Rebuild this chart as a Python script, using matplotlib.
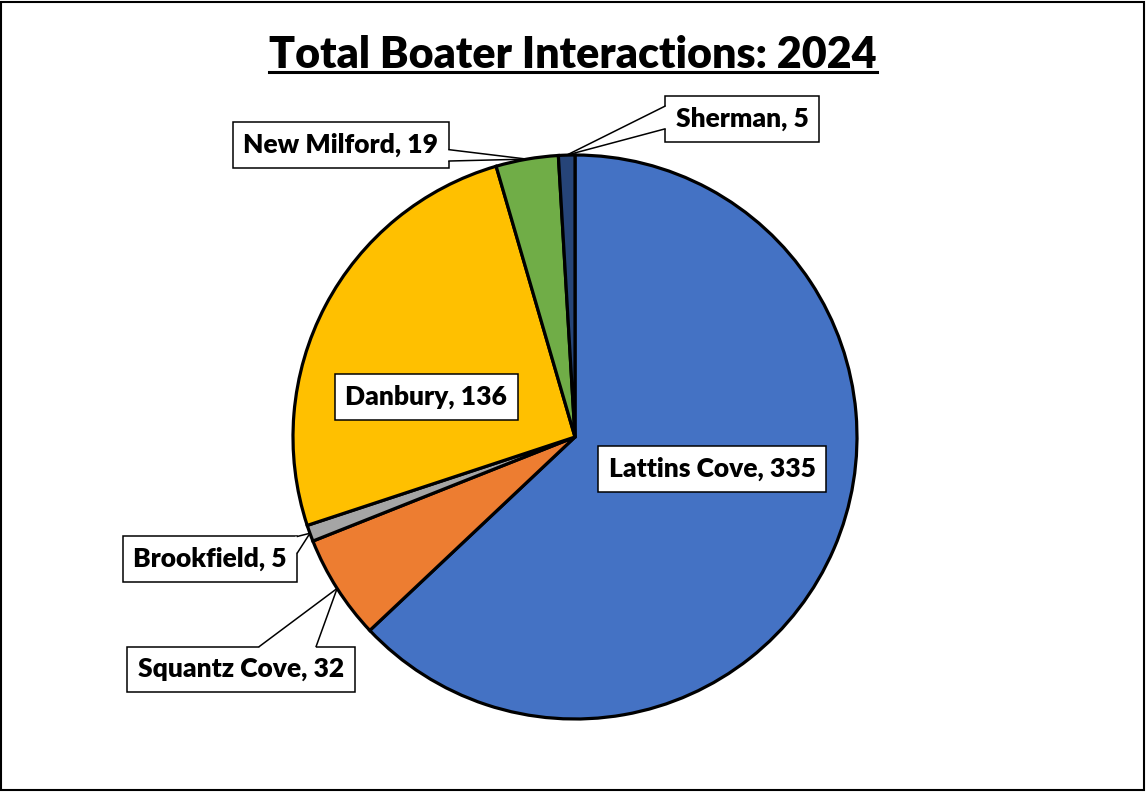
import matplotlib.pyplot as plt
from matplotlib.lines import Line2D
from matplotlib.patches import Polygon, Rectangle
import numpy as np

# Boater interactions by location, 2024
locations = ["Lattins Cove", "Squantz Cove", "Brookfield", "Danbury", "New Milford", "Sherman"]
interactions = [335, 32, 5, 136, 19, 5]
colors = ["#4472C4", "#ED7D31", "#A5A5A5", "#FFC000", "#70AD47", "#264478"]

# where each label box sits (data units of the pie axes, radius = 1)
label_pos = [(0.486, -0.113), (-1.184, -0.823), (-1.294, -0.433),
             (-0.528, 0.142), (-0.830, 1.035), (0.592, 1.128)]
# callout tail: which side of the box it leaves from and the span along that side
tails = [None, ("top", 0.58, 0.83), ("right", 0.0, 0.36),
         None, ("right", 0.60, 0.85), ("left", 0.22, 0.72)]

plt.rcParams["font.family"] = ["Lato", "DejaVu Sans"]

fig = plt.figure(figsize=(11.46, 7.92), dpi=100)
ax = fig.add_axes([293 / 1146, 73 / 792, 564 / 1146, 564 / 792])

wedges, _ = ax.pie(interactions, colors=colors, startangle=90, counterclock=False,
                   radius=1, wedgeprops=dict(edgecolor="black", linewidth=2.3))
ax.set_xlim(-1, 1)
ax.set_ylim(-1, 1)
ax.set_aspect("equal")
ax.axis("off")

box = dict(boxstyle="square,pad=0.4", facecolor="white", edgecolor="black", linewidth=1.1)
labels = []
for name, val, pos in zip(locations, interactions, label_pos):
    t = ax.text(pos[0], pos[1], f"{name}, {val}", ha="center", va="center",
                fontsize=19, fontweight="heavy", bbox=box, zorder=3)
    labels.append(t)

title = fig.text(0.5, 1 - 68 / 792, "Total Boater Interactions: 2024", ha="center",
                 va="baseline", fontsize=31, fontweight="heavy")

fig.canvas.draw()
to_data = ax.transData.inverted()

# callout tails from the label boxes to the middle of each small slice
for w, t, tail in zip(wedges, labels, tails):
    if tail is None:
        continue
    side, f0, f1 = tail
    mid = np.deg2rad((w.theta1 + w.theta2) / 2)
    tip = np.array([np.cos(mid), np.sin(mid)])
    bb = t.get_bbox_patch().get_window_extent()
    if side == "top":
        p0 = (bb.x0 + f0 * bb.width, bb.y1)
        p1 = (bb.x0 + f1 * bb.width, bb.y1)
        inward = (0, -2)
    elif side == "right":
        p0 = (bb.x1, bb.y1 - f0 * bb.height)
        p1 = (bb.x1, bb.y1 - f1 * bb.height)
        inward = (-2, 0)
    else:
        p0 = (bb.x0, bb.y1 - f0 * bb.height)
        p1 = (bb.x0, bb.y1 - f1 * bb.height)
        inward = (2, 0)
    a = to_data.transform(p0)
    b = to_data.transform(p1)
    a_in = to_data.transform((p0[0] + inward[0], p0[1] + inward[1]))
    b_in = to_data.transform((p1[0] + inward[0], p1[1] + inward[1]))
    ax.add_patch(Polygon([a_in, a, tip, b, b_in], closed=True, facecolor="white",
                         edgecolor="none", zorder=4, clip_on=False))
    for p in (a, b):
        ax.add_line(Line2D([p[0], tip[0]], [p[1], tip[1]], color="black",
                           linewidth=1.1, zorder=4, clip_on=False))

# underline the title
tb = title.get_window_extent().transformed(fig.transFigure.inverted())
fig.add_artist(Line2D([tb.x0, tb.x1], [1 - 72 / 792] * 2, transform=fig.transFigure,
                      color="black", linewidth=2.2))

# chart border
fig.add_artist(Rectangle((0.001, 0.002), 0.997, 0.996, transform=fig.transFigure,
                         fill=False, edgecolor="black", linewidth=1.5))

fig.savefig("out.png", dpi=100)
